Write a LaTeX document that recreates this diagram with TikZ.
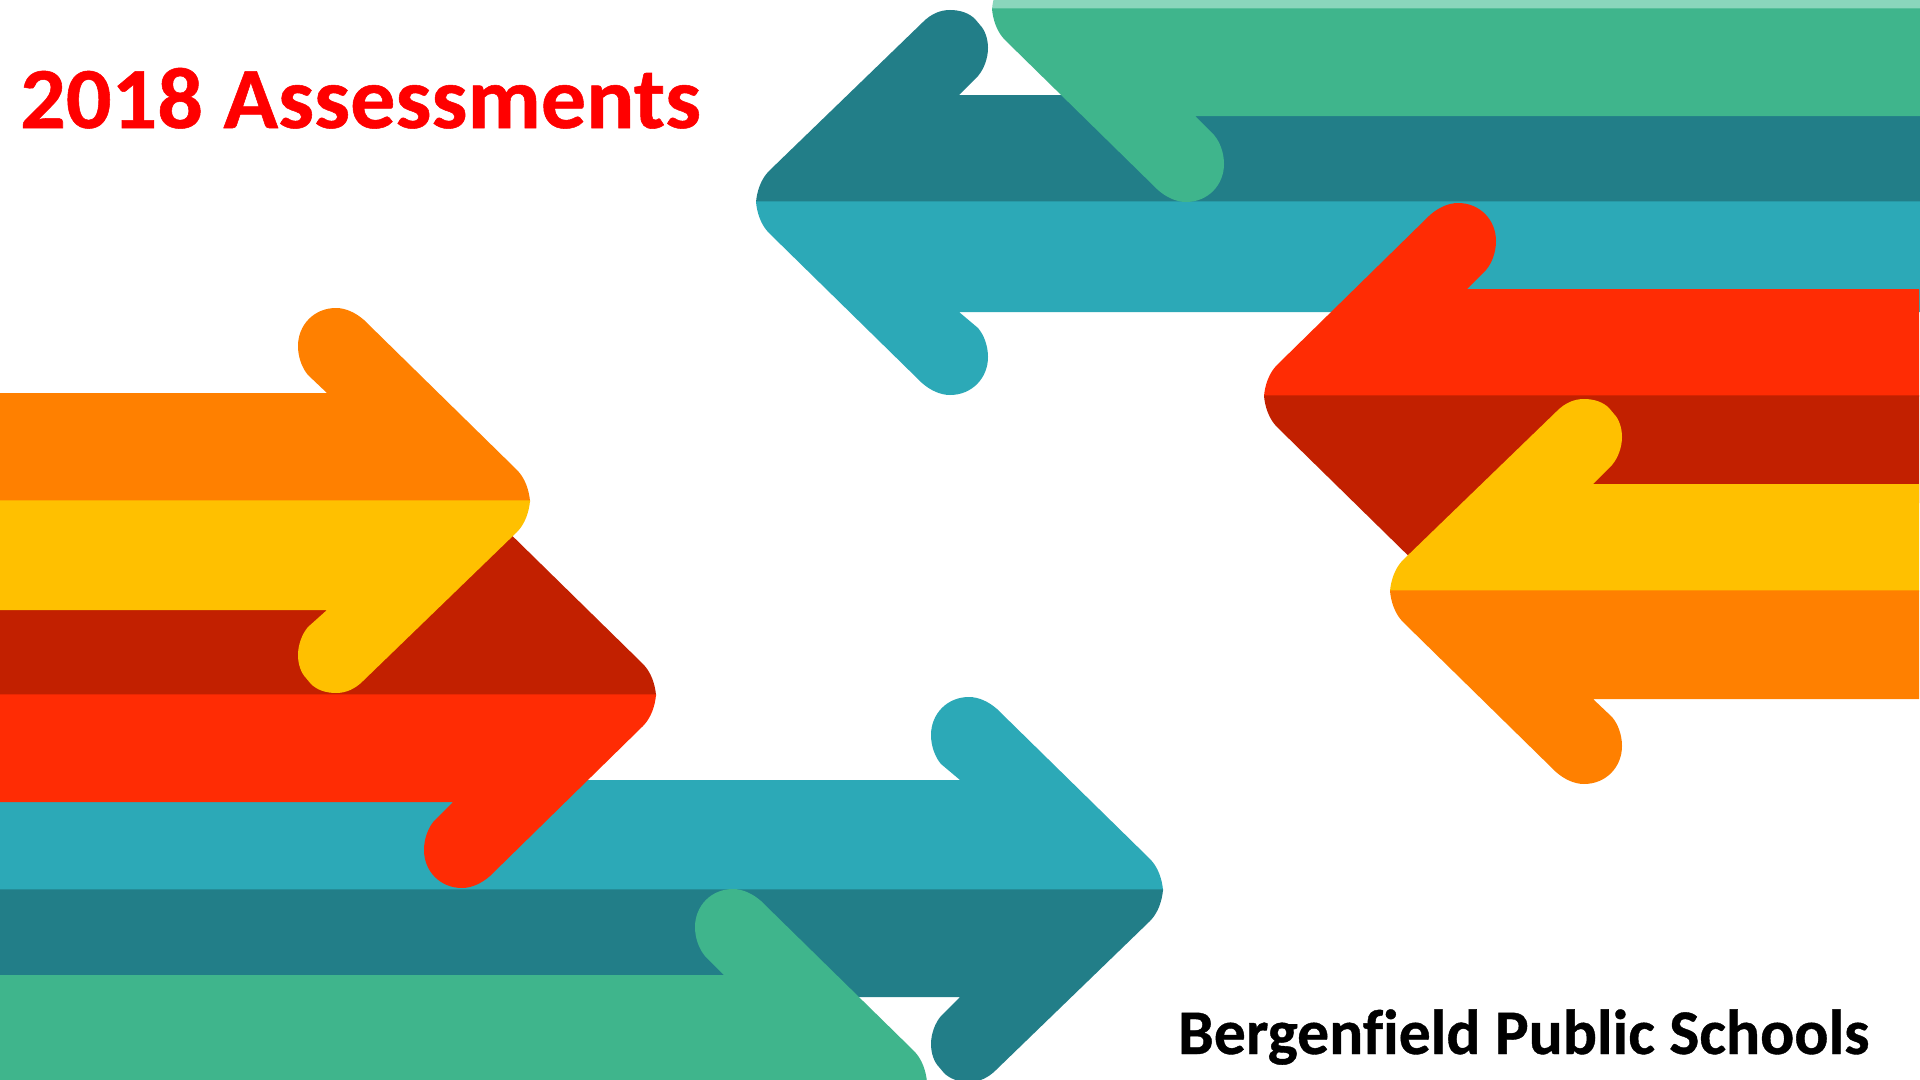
\documentclass[tikz,border=0pt]{standalone}
\usepackage{fontspec}
\setmainfont[Ligatures=CommonOff,BoldFeatures={FakeBold=0.6}]{Carlito}
\definecolor{cOrange}{HTML}{FF8000}
\definecolor{cYellow}{HTML}{FFC000}
\definecolor{cDarkRed}{HTML}{C22000}
\definecolor{cRed}{HTML}{FF2C04}
\definecolor{cTeal}{HTML}{2CA9B7}
\definecolor{cDarkTeal}{HTML}{227E88}
\definecolor{cGreen}{HTML}{3FB58C}
\definecolor{cPale}{HTML}{8AD6BC}
% colour, tip x, mid y, x sign, y sign, shaft length, shaft half-height
\newcommand{\halfarrow}[7]{%
  \fill[#1,shift={(#2,#3)},xscale=#4,yscale=#5]
    (0,-0.6) -- (0,0) .. controls (1,11) and (5,23) .. (13,31)
    -- (166,181)
    .. controls (174,188) and (184,193) .. (194,193)
    .. controls (216,193) and (232,176) .. (232,155)
    .. controls (232,144) and (228,133) .. (222,126)
    -- (203,#7) -- (#6,#7) -- (#6,-0.6) -- cycle;}
% same outline, with the flatter, shouldered end of the lobe
\newcommand{\halfarrowflat}[7]{%
  \fill[#1,shift={(#2,#3)},xscale=#4,yscale=#5]
    (0,-0.6) -- (0,0) .. controls (1,11) and (5,23) .. (13,31)
    -- (167,180)
    .. controls (175,188) and (184,192) .. (194,192)
    .. controls (204,192) and (213,189) .. (219,183)
    -- (224,177)
    .. controls (229,172) and (232,163) .. (232,154)
    .. controls (232,144) and (228,133) .. (222,126)
    -- (203,#7) -- (#6,#7) -- (#6,-0.6) -- cycle;}
\tikzset{
  titletext/.style={anchor=base west,inner sep=0pt,text=red,xscale=1.035,font=\fontsize{124}{124}\selectfont\bfseries},
  footertext/.style={anchor=base west,inner sep=0pt,text=black,font=\fontsize{90.5}{90.5}\selectfont\bfseries}
}
\begin{document}
\begin{tikzpicture}[x=0.05cm,y=-0.05cm]
\useasboundingbox (0,0) rectangle (1920,1080);
\fill[white] (0,0) rectangle (1920,1080);
\begin{scope}
\clip (0,0) rectangle (1920,1080);
% top right group
\halfarrowflat{cDarkTeal}{756}{202}{1}{-1}{1164}{107}
\halfarrow{cTeal}{756}{202}{1}{1}{1164}{110}
\halfarrow{cPale}{992}{9}{1}{-1}{928}{107}
\halfarrow{cGreen}{992}{9}{1}{1}{928}{107}
\halfarrow{cRed}{1264}{396}{1}{-1}{655}{107}
\halfarrow{cDarkRed}{1264}{396}{1}{1}{655}{107}
\halfarrowflat{cYellow}{1390}{591}{1}{-1}{529}{107}
\halfarrow{cOrange}{1390}{591}{1}{1}{529}{108}
% bottom left group
\halfarrow{cTeal}{1163}{890}{-1}{-1}{1164}{110}
\halfarrowflat{cDarkTeal}{1163}{890}{-1}{1}{1164}{107}
\halfarrow{cGreen}{927}{1082}{-1}{-1}{928}{107}
\halfarrow{cDarkRed}{656}{695}{-1}{-1}{657}{107}
\halfarrow{cRed}{656}{695}{-1}{1}{657}{107}
\halfarrow{cOrange}{530}{501}{-1}{-1}{531}{108}
\halfarrowflat{cYellow}{530}{501}{-1}{1}{531}{109}
\end{scope}
\node[titletext] (title) at (20,128) {2018 Assessments};
\node[footertext] (footer) at (1178,1054) {Bergenfield Public Schools};
\end{tikzpicture}
\end{document}
